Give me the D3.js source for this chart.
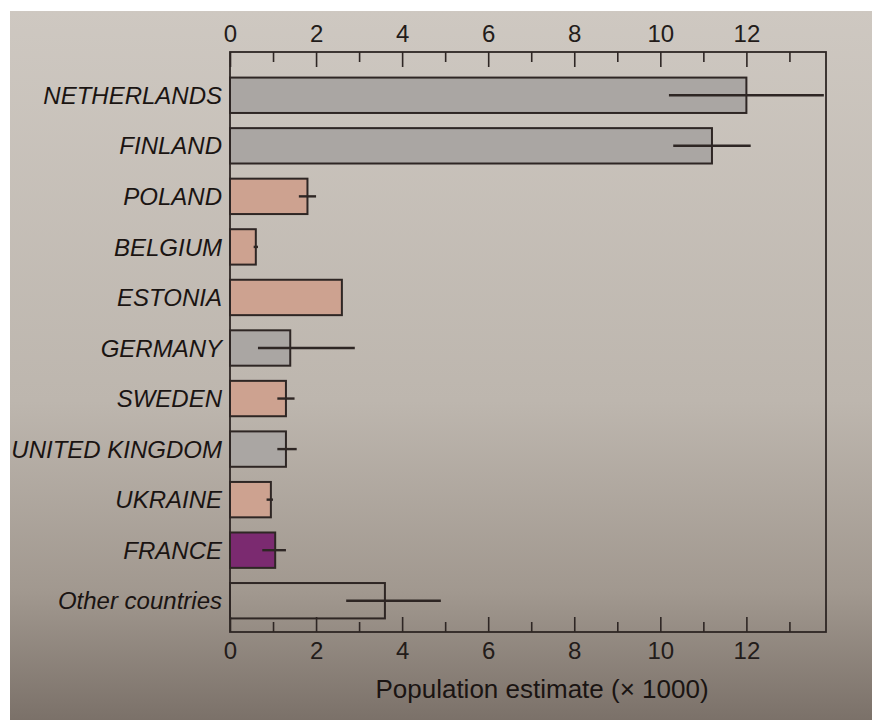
<!DOCTYPE html>
<html>
<head>
<meta charset="utf-8">
<script src="https://cdn.jsdelivr.net/npm/d3@7"></script>
<style>
  html, body { margin: 0; padding: 0; background: #ffffff; }
  svg { display: block; }
</style>
</head>
<body>
<svg id="chart" width="872" height="720"></svg>
<script>
// ---- data (population estimate, × 1000) ----
const countries = ["NETHERLANDS", "FINLAND", "POLAND", "BELGIUM", "ESTONIA", "GERMANY",
                   "SWEDEN", "UNITED KINGDOM", "UKRAINE", "FRANCE", "Other countries"];
const values    = [12.0, 11.2, 1.8, 0.6, 2.6, 1.4, 1.3, 1.3, 0.95, 1.05, 3.6];
const errLow    = [10.2, 10.3, 1.6, 0.55, null, 0.65, 1.1, 1.1, 0.85, 0.75, 2.7];
const errHigh   = [13.8, 12.1, 2.0, 0.65, null, 2.9, 1.5, 1.55, 1.0, 1.3, 4.9];
const groups    = ["grey", "grey", "salmon", "salmon", "salmon", "grey",
                   "salmon", "grey", "salmon", "purple", "other"];
const tickValues = [0, 1, 2, 3, 4, 5, 6, 7, 8, 9, 10, 11, 12, 13];
const axisTitle = "Population estimate (× 1000)";

const groupColor = { grey: "#aaa6a3", salmon: "#cda290", purple: "#7b2a70", other: "none" };
const ink = "#2e2624";

const svg = d3.select("#chart");
const defs = svg.append("defs");
const grad = defs.append("linearGradient").attr("id", "paper")
  .attr("x1", 0).attr("y1", 0).attr("x2", 0).attr("y2", 1);
grad.append("stop").attr("offset", "0%").attr("stop-color", "#cec8c1");
grad.append("stop").attr("offset", "55%").attr("stop-color", "#bdb6ae");
grad.append("stop").attr("offset", "82%").attr("stop-color", "#a1988f");
grad.append("stop").attr("offset", "100%").attr("stop-color", "#7b7169");
svg.append("rect").attr("x", 10).attr("y", 11).attr("width", 862).attr("height", 709)
  .attr("fill", "url(#paper)");

const frame = { left: 230, right: 826, top: 52, bottom: 632 };
const x = d3.scaleLinear().domain([0, 13.85]).range([frame.left, frame.right]);
const y = d3.scaleBand().domain(countries).range([70, 626]).paddingInner(0.3).paddingOuter(0.15);

const font = "'Liberation Sans', Arial, Helvetica, sans-serif";

// frame
svg.append("rect").attr("x", frame.left).attr("y", frame.top)
  .attr("width", frame.right - frame.left).attr("height", frame.bottom - frame.top)
  .attr("fill", "none").attr("stroke", ink).attr("stroke-width", 1.8);

// axes
const fmt = d => (d % 2 === 0 ? d : "");
const topAxis = svg.append("g").attr("transform", `translate(0,${frame.top})`)
  .call(d3.axisTop(x).tickValues(tickValues).tickFormat(fmt).tickSizeInner(-15).tickSizeOuter(0).tickPadding(10));
const botAxis = svg.append("g").attr("transform", `translate(0,${frame.bottom})`)
  .call(d3.axisBottom(x).tickValues(tickValues).tickFormat(fmt).tickSizeInner(-15).tickSizeOuter(0).tickPadding(10));
[topAxis, botAxis].forEach((g, i) => {
  g.select(".domain").remove();
  g.selectAll(".tick line").attr("stroke", ink).attr("stroke-width", 1.6)
    .attr("y2", d => (d % 2 === 0 ? 15 : 10) * (i === 0 ? 1 : -1));
  g.selectAll(".tick text").attr("font-family", font).attr("font-size", 24).attr("fill", "#231c1a");
});

// bars
svg.append("g").selectAll("rect").data(countries).join("rect")
  .attr("x", x(0))
  .attr("y", d => y(d))
  .attr("width", (d, i) => x(values[i]) - x(0))
  .attr("height", y.bandwidth())
  .attr("fill", (d, i) => groupColor[groups[i]])
  .attr("stroke", ink).attr("stroke-width", 2);

// error bars
svg.append("g").selectAll("line").data(countries.filter((d, i) => errLow[i] !== null)).join("line")
  .attr("x1", d => x(errLow[countries.indexOf(d)]))
  .attr("x2", d => x(errHigh[countries.indexOf(d)]))
  .attr("y1", d => y(d) + y.bandwidth() / 2)
  .attr("y2", d => y(d) + y.bandwidth() / 2)
  .attr("stroke", ink).attr("stroke-width", 2.4);

// category labels
svg.append("g").selectAll("text").data(countries).join("text")
  .attr("x", 222)
  .attr("y", d => y(d) + y.bandwidth() / 2)
  .attr("dy", "0.36em")
  .attr("text-anchor", "end")
  .attr("font-family", font).attr("font-style", "italic").attr("font-size", 24)
  .attr("fill", "#1a1412")
  .text(d => d);

// axis title
svg.append("text").attr("x", (frame.left + frame.right) / 2 + 14).attr("y", 698)
  .attr("text-anchor", "middle").attr("font-family", font).attr("font-size", 26)
  .attr("fill", "#1a1412").text(axisTitle);
</script>
</body>
</html>
